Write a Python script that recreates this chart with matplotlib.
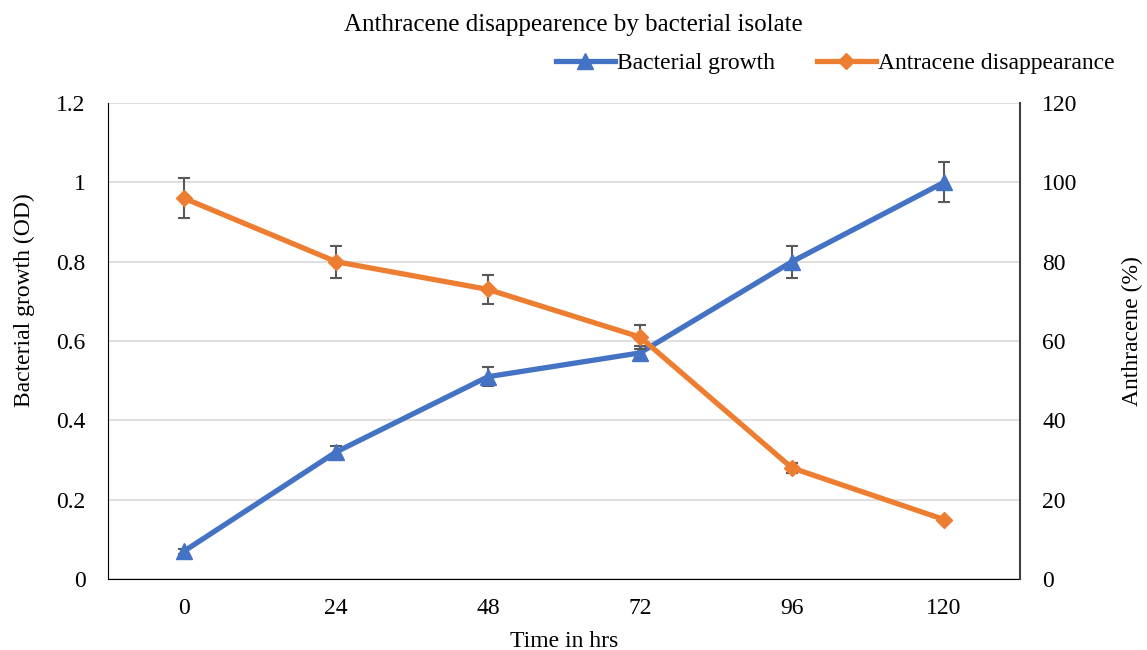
import matplotlib
matplotlib.use("Agg")
import matplotlib.pyplot as plt
from matplotlib.lines import Line2D

plt.rcParams['font.family'] = ['Liberation Serif', 'DejaVu Serif']

times = ["0", "24", "48", "72", "96", "120"]
growth = [0.07, 0.32, 0.51, 0.57, 0.80, 1.00]
growth_err = [0.006, 0.015, 0.024, 0.018, 0.04, 0.05]
anthracene = [96, 80, 73, 61, 28, 15]
anthracene_err = [5, 4, 3.7, 3, 1.2, 0.5]

blue = "#4472C4"
orange = "#ED7D31"
errc = "#595959"

fig = plt.figure(figsize=(11.47, 6.5), dpi=100)
ax = fig.add_axes([108/1147, 1-579/650, (1020-108)/1147, (579-103)/650])
ax2 = ax.twinx()

x = list(range(len(times)))

ax.errorbar(x, growth, yerr=growth_err, color=blue, lw=3.8, marker="^", ms=11,
            ecolor=errc, elinewidth=1.5, capsize=4.5, capthick=1.5, zorder=3)
ax2.errorbar(x, anthracene, yerr=anthracene_err, color=orange, lw=3.8, marker="D", ms=8,
             ecolor=errc, elinewidth=1.5, capsize=4.5, capthick=1.5, zorder=3)

ax.set_xlim(-0.5, 5.5)
ax.set_ylim(0, 1.2)
ax2.set_ylim(0, 120)
ax.set_yticks([0, 0.2, 0.4, 0.6, 0.8, 1.0, 1.2])
ax.set_yticklabels(["0", "0.2", "0.4", "0.6", "0.8", "1", "1.2"])
ax2.set_yticks([0, 20, 40, 60, 80, 100, 120])
ax.set_xticks(x)
ax.set_xticklabels(times)

ax.grid(axis="y", color="#D9D9D9", lw=1.2)
ax.set_axisbelow(True)

fs = 17
for a in (ax, ax2):
    a.spines["top"].set_visible(False)
    a.tick_params(length=0, labelsize=fs)
ax.tick_params(axis="y", pad=16)
ax2.tick_params(axis="y", pad=16)
ax.tick_params(axis="x", pad=14)
ax.spines["left"].set_color("black")
ax.spines["bottom"].set_color("black")
ax.spines["right"].set_visible(False)
ax2.spines["left"].set_visible(False)
ax2.spines["bottom"].set_visible(False)
ax2.spines["right"].set_color("#404040")
ax2.spines["right"].set_linewidth(1.5)

ax.set_xlabel("Time in hrs", fontsize=fs, labelpad=8)
ax.set_ylabel("Bacterial growth (OD)", fontsize=fs, labelpad=15.5)
ax2.set_ylabel("Anthracene (%)", fontsize=fs, labelpad=32)
ax.yaxis.label.set_y(0.586)
ax2.yaxis.label.set_y(0.521)

fig.text(0.5, 1-25/650, "Anthracene disappearence by bacterial isolate",
         ha="center", va="center", fontsize=18)

handles = [Line2D([], [], color=blue, lw=3.8, marker="^", ms=11),
           Line2D([], [], color=orange, lw=3.8, marker="D", ms=8)]
fig.legend(handles, ["Bacterial growth", "Antracene disappearance"],
           loc="center right", bbox_to_anchor=(1124/1147, 1-63/650), ncol=2,
           frameon=False, fontsize=fs, handlelength=2.5, columnspacing=1.75,
           handletextpad=0.1, borderaxespad=0)

fig.savefig("out.png", dpi=100)
